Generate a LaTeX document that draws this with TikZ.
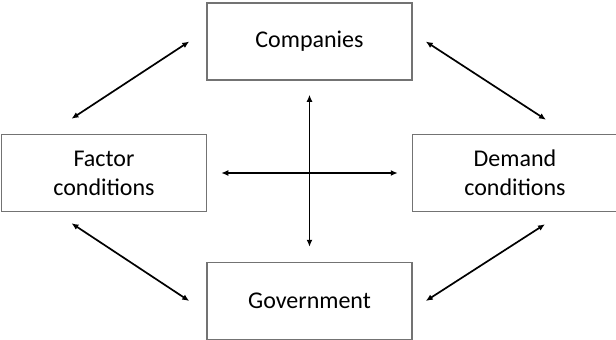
\documentclass[tikz,border=0pt]{standalone}
\usepackage{fontspec}
\setmainfont{Carlito}
\usetikzlibrary{arrows.meta,positioning}

\begin{document}
\begin{tikzpicture}[x=0.5pt,y=-0.5pt,on grid,
    box/.style={draw=black!55,line width=0.75pt,minimum width=102.5pt,minimum height=38.5pt,
        inner sep=0pt,align=center,font=\fontsize{12}{14.5}\selectfont},
    link/.style={{Latex[length=3.5pt,width=3pt]}-{Latex[length=3.5pt,width=3pt]},line width=0.85pt}]
            \useasboundingbox (0,0) rectangle (616,339);
            \node[box] (comp) at (309.5,41.5) {Companies};
            \node[box] (fac) [below left=65.75pt and 102.75pt of comp] {Factor\\conditions};
            \node[box] (dem) [below right=65.75pt and 102.75pt of comp] {Demand\\conditions};
            \node[box] (gov) [below=129.75pt of comp] {Government};
            \path[link]
                ([xshift=-16.25pt,yshift=7.5pt]fac.north) edge ([xshift=-8.5pt]comp.west)
                ([xshift=6.5pt]comp.east) edge ([xshift=15.5pt,yshift=7pt]dem.north)
                ([xshift=-16.25pt,yshift=-5.5pt]fac.south) edge ([xshift=-8.5pt]gov.west)
                ([xshift=6.5pt]gov.east) edge ([xshift=15pt,yshift=-6pt]dem.south)
                ([yshift=-7pt]comp.south) edge ([yshift=7.5pt]gov.north)
                ([xshift=7pt]fac.east) edge ([xshift=-7pt]dem.west);
        \end{tikzpicture}
\end{document}
